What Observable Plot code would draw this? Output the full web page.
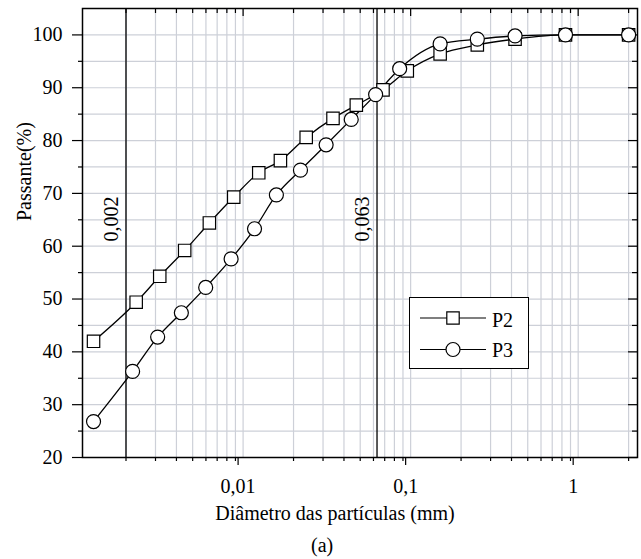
<!DOCTYPE html>
<html><head><meta charset="utf-8">
<script src="https://cdn.jsdelivr.net/npm/d3@7"></script>
<script src="https://cdn.jsdelivr.net/npm/@observablehq/plot@0.6"></script>
<style>
body{margin:0;background:#fff;font-family:"Liberation Serif","Times New Roman",serif;color:#000;}
#wrap{position:relative;width:641px;height:559px;}
#chart svg, #chart svg text{font-family:"Liberation Serif","Times New Roman",serif !important;}
#legend{position:absolute;left:409px;top:297px;width:120px;height:72px;border:1px solid #000;background:#fff;box-sizing:border-box;}
#legend text{font-family:"Liberation Serif","Times New Roman",serif;font-size:20px;}
#cap{font-size:20px;line-height:24px;height:26px;padding-left:311px;}
</style></head><body>
<div id="wrap"><div id="chart"></div><div id="legend"></div><div id="cap">(a)</div></div>
<script>
// Data (diameter in mm, passing in %)
const seriesNames = ["P2", "P3"];
const diamP2 = [0.00128, 0.0023, 0.00318, 0.00448, 0.00629, 0.00879, 0.0124, 0.0167, 0.0238, 0.0344, 0.0474, 0.0684, 0.0955, 0.15, 0.25, 0.42, 0.84, 2.0];
const passP2 = [42.0, 49.4, 54.3, 59.2, 64.4, 69.3, 73.9, 76.2, 80.6, 84.2, 86.7, 89.6, 93.2, 96.4, 98.1, 99.2, 100, 100];
const diamP3 = [0.00128, 0.00219, 0.00309, 0.00428, 0.00598, 0.00848, 0.0117, 0.0158, 0.022, 0.0313, 0.0442, 0.0618, 0.086, 0.15, 0.25, 0.42, 0.84, 2.0];
const passP3 = [26.8, 36.3, 42.8, 47.4, 52.2, 57.6, 63.3, 69.7, 74.4, 79.2, 84.0, 88.7, 93.6, 98.3, 99.2, 99.8, 100, 100];
const refLines = [0.002, 0.063];
const xMajorTicks = [0.01, 0.1, 1];
const yLabelTicks = [20, 30, 40, 50, 60, 70, 80, 90, 100];
const yMinorTicks = [25, 35, 45, 55, 65, 75, 85, 95];
const xDomain = [0.0011, 2.26];
const yDomain = [20, 105];

const fmt = d => String(d).replace(".", ",");
const rowsP2 = diamP2.map((d, i) => ({d, p: passP2[i], s: seriesNames[0]}));
const rowsP3 = diamP3.map((d, i) => ({d, p: passP3[i], s: seriesNames[1]}));

const xAll = [];
for (const k of [-3, -2, -1, 0]) for (let m = 1; m <= 9; m++) {
  const v = +(m * Math.pow(10, k)).toPrecision(2);
  if (v >= xDomain[0] && v <= xDomain[1]) xAll.push(v);
}
const xMinor = xAll.filter(v => !xMajorTicks.includes(v));
const yGrid = [...yMinorTicks, ...yLabelTicks].filter(v => v > yDomain[0] && v < yDomain[1]);

const W = 641, H = 533, mL = 82, mR = 4, mT = 8, mB = 76;
const fw = W - mL - mR, fh = H - mT - mB;
const gridColor = "#cdd0d8";
const ff = '"Liberation Serif", "Times New Roman", serif';

const chart = Plot.plot({
  width: W, height: H, marginLeft: mL, marginRight: mR, marginTop: mT, marginBottom: mB,
  style: {fontFamily: ff, fontSize: "20px", color: "black", background: "white"},
  x: {type: "log", domain: xDomain},
  y: {domain: yDomain},
  marks: [
    Plot.gridX(xAll, {stroke: gridColor, strokeOpacity: 1, strokeWidth: 1.2}),
    Plot.gridY(yGrid, {stroke: gridColor, strokeOpacity: 1, strokeWidth: 1.2}),
    Plot.ruleX(refLines, {x: d => d, stroke: "black", strokeWidth: 1.3}),
    Plot.text(refLines, {x: d => d, text: fmt, frameAnchor: "middle", rotate: -90, dx: -14, dy: -14, fontSize: 20, fontFamily: ff, fill: "black"}),
    // outward ticks bottom & left
    Plot.axisX(xMajorTicks, {tickSize: 8, tickPadding: 13, tickFormat: fmt, fontSize: 20, fontFamily: ff, dx: -5, label: null, strokeWidth: 1.2}),
    Plot.axisX(xMinor, {tickSize: 4, tickFormat: () => "", label: null, strokeWidth: 1.2}),
    Plot.axisY(yLabelTicks, {tickSize: 10, tickPadding: 10, fontSize: 20, fontFamily: ff, label: null, strokeWidth: 1.2}),
    Plot.axisY(yMinorTicks, {tickSize: 4, tickFormat: () => "", label: null, strokeWidth: 1.2}),
    // inward ticks top & right
    Plot.ruleX(xMajorTicks, {x: d => d, insetBottom: fh - 8, stroke: "black", strokeWidth: 1.2}),
    Plot.ruleX(xMinor, {x: d => d, insetBottom: fh - 5, stroke: "black", strokeWidth: 1.2}),
    Plot.ruleY(yLabelTicks, {y: d => d, insetLeft: fw - 9, stroke: "black", strokeWidth: 1.2}),
    Plot.ruleY(yMinorTicks, {y: d => d, insetLeft: fw - 5, stroke: "black", strokeWidth: 1.2}),
    Plot.frame({stroke: "black", strokeWidth: 1.5}),
    // data
    Plot.line(rowsP2, {x: "d", y: "p", curve: "monotone-x", stroke: "black", strokeWidth: 1.3}),
    Plot.line(rowsP3, {x: "d", y: "p", curve: "monotone-x", stroke: "black", strokeWidth: 1.3}),
    Plot.dot(rowsP2, {x: "d", y: "p", symbol: "square", r: 7, fill: "white", stroke: "black", strokeWidth: 1.2}),
    Plot.dot(rowsP3, {x: "d", y: "p", symbol: "circle", r: 7, fill: "white", stroke: "black", strokeWidth: 1.2}),
    // axis titles
    Plot.text(["Diâmetro das partículas (mm)"], {frameAnchor: "bottom", dy: 62, dx: -25, fontSize: 20, fontFamily: ff, fill: "black"}),
    Plot.text(["Passante(%)"], {frameAnchor: "left", dx: -58, dy: -12, rotate: -90, fontSize: 20, fontFamily: ff, fill: "black"})
  ]
});
document.getElementById("chart").appendChild(chart);

// Legend (inside the plot area, as in the reference)
const lg = d3.select("#legend").append("svg").attr("width", 118).attr("height", 70);
const legendItems = [
  {name: seriesNames[0], sym: "square", y: 20, base: 29},
  {name: seriesNames[1], sym: "circle", y: 51.5, base: 59}
];
for (const it of legendItems) {
  lg.append("line").attr("x1", 10).attr("x2", 76).attr("y1", it.y).attr("y2", it.y).attr("stroke", "black").attr("stroke-width", 1.2);
  const sym = it.sym === "square" ? d3.symbolSquare : d3.symbolCircle;
  lg.append("path").attr("d", d3.symbol(sym, 49 * Math.PI)()).attr("transform", `translate(43,${it.y})`)
    .attr("fill", "white").attr("stroke", "black").attr("stroke-width", 1.2);
  lg.append("text").attr("x", 82).attr("y", it.base).text(it.name);
}
</script>
</body></html>
